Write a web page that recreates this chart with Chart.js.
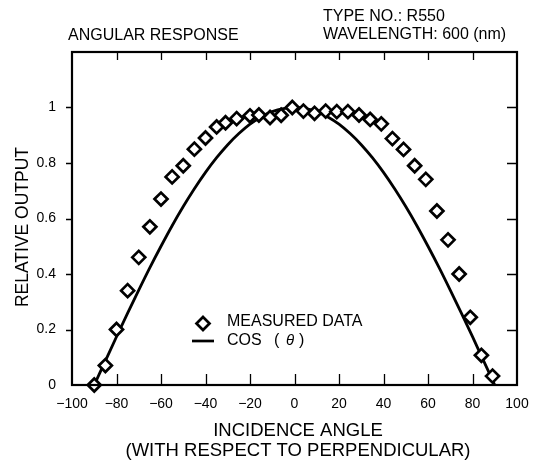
<!DOCTYPE html>
<html>
<head>
<meta charset="utf-8">
<script src="https://cdn.jsdelivr.net/npm/chart.js@4"></script>
<style>
  html, body { margin: 0; padding: 0; background: #fff; }
  canvas { display: block; }
</style>
</head>
<body>
<canvas id="chart" width="537" height="460"></canvas>
<script>
// measured points (angle in degrees, relative output)
const measuredAngles = [-90, -85, -80, -75, -70, -65, -60, -55, -50, -45, -40, -35, -31, -26, -20, -16, -11, -6, -1,
  4, 9, 14, 19, 24, 29, 34, 39, 44, 49, 54, 59, 64, 69, 74, 79, 84, 89];
const measuredOutput = [0.00, 0.07, 0.20, 0.34, 0.46, 0.57, 0.67, 0.75, 0.79, 0.85, 0.89, 0.93, 0.945, 0.96, 0.97, 0.973, 0.964, 0.972, 1.0,
  0.987, 0.979, 0.987, 0.985, 0.985, 0.973, 0.957, 0.941, 0.888, 0.849, 0.79, 0.741, 0.627, 0.523, 0.40, 0.244, 0.107, 0.032];

// cos(theta) reference curve, tabulated every 5 degrees
const cosAngles = [-90, -85, -80, -75, -70, -65, -60, -55, -50, -45, -40, -35, -30, -25, -20, -15, -10, -5, 0,
  5, 10, 15, 20, 25, 30, 35, 40, 45, 50, 55, 60, 65, 70, 75, 80, 85, 90];
const cosOutput = [0, 0.087, 0.174, 0.259, 0.342, 0.423, 0.5, 0.574, 0.643, 0.707, 0.766, 0.819, 0.866, 0.906, 0.94, 0.966, 0.985, 0.996, 1,
  0.996, 0.985, 0.966, 0.94, 0.906, 0.866, 0.819, 0.766, 0.707, 0.643, 0.574, 0.5, 0.423, 0.342, 0.259, 0.174, 0.087, 0];

const xTicks = [-100, -80, -60, -40, -20, 0, 20, 40, 60, 80, 100];
const yTicks = [0, 0.2, 0.4, 0.6, 0.8, 1];

const FONT = '"Liberation Sans", Arial, Helvetica, sans-serif';

// frame, inward tick marks, headings and legend
const decorations = {
  id: 'decorations',
  afterDraw(chart) {
    const {ctx, chartArea: a, scales: {x, y}} = chart;
    ctx.save();
    ctx.strokeStyle = '#000';
    ctx.lineWidth = 2.2;
    ctx.strokeRect(a.left, a.top, a.right - a.left, a.bottom - a.top);

    ctx.lineWidth = 1.3;
    ctx.beginPath();
    xTicks.slice(1, -1).forEach(v => {
      const px = Math.round(x.getPixelForValue(v)) + 0.5;
      ctx.moveTo(px, a.top); ctx.lineTo(px, a.top + 8);
      ctx.moveTo(px, a.bottom); ctx.lineTo(px, a.bottom - 11);
    });
    yTicks.slice(1).forEach(v => {
      const py = Math.round(y.getPixelForValue(v)) + 0.5;
      ctx.moveTo(a.right, py); ctx.lineTo(a.right - 10, py);
      ctx.moveTo(a.left, py); ctx.lineTo(a.left - 6, py);
    });
    ctx.stroke();

    ctx.fillStyle = '#000';
    ctx.textBaseline = 'middle';
    ctx.textAlign = 'left';
    ctx.font = '16px ' + FONT;
    ctx.fillText('ANGULAR RESPONSE', 68, 36);
    ctx.fillText('TYPE NO.: R550', 323, 17);
    ctx.fillText('WAVELENGTH: 600 (nm)', 323, 35);

    ctx.textAlign = 'center';
    ctx.font = '18.5px ' + FONT;
    ctx.fillText('INCIDENCE ANGLE', 298, 431);
    ctx.fillText('(WITH RESPECT TO PERPENDICULAR)', 298, 451);

    ctx.save();
    ctx.translate(23, 227);
    ctx.rotate(-Math.PI / 2);
    ctx.font = '17.5px ' + FONT;
    ctx.fillText('RELATIVE OUTPUT', 0, 0);
    ctx.restore();

    // legend
    ctx.lineWidth = 2.7;
    ctx.fillStyle = '#fff';
    ctx.beginPath();
    ctx.moveTo(203, 317); ctx.lineTo(209.5, 323.5); ctx.lineTo(203, 330); ctx.lineTo(196.5, 323.5);
    ctx.closePath();
    ctx.fill(); ctx.stroke();
    ctx.beginPath();
    ctx.moveTo(192, 341); ctx.lineTo(214, 341);
    ctx.stroke();

    ctx.fillStyle = '#000';
    ctx.textAlign = 'left';
    ctx.font = '16px ' + FONT;
    ctx.fillText('MEASURED DATA', 227, 322);
    ctx.fillText('COS', 227, 341);
    ctx.fillText('(', 274, 341);
    ctx.font = 'italic 15px ' + FONT;
    ctx.fillText('θ', 286, 341);
    ctx.font = '16px ' + FONT;
    ctx.fillText(')', 299, 341);
    ctx.restore();
  }
};

new Chart(document.getElementById('chart'), {
  type: 'scatter',
  data: {
    datasets: [{
      label: 'MEASURED DATA',
      data: measuredAngles.map((a, i) => ({x: a, y: measuredOutput[i]})),
      pointStyle: 'rectRot',
      pointRadius: 6.5,
      pointBorderWidth: 2.7,
      borderColor: '#000',
      backgroundColor: '#fff',
      clip: false,
      order: 0
    }, {
      label: 'COS (θ)',
      type: 'line',
      data: cosAngles.map((a, i) => ({x: a, y: cosOutput[i]})),
      borderColor: '#000',
      borderWidth: 2.8,
      pointRadius: 0,
      cubicInterpolationMode: 'monotone',
      fill: false,
      order: 1
    }]
  },
  options: {
    responsive: false,
    animation: false,
    devicePixelRatio: 1,
    layout: { padding: { left: 0, top: 52, right: 20, bottom: 0 } },
    plugins: {
      legend: { display: false },
      tooltip: { enabled: false }
    },
    scales: {
      x: {
        type: 'linear',
        min: -100,
        max: 100,
        afterFit(scale) { scale.height = 75; },
        afterBuildTicks(scale) { scale.ticks = xTicks.map(v => ({value: v})); },
        grid: { display: false },
        border: { display: false },
        ticks: {
          padding: 3,
          color: '#000',
          font: { family: FONT, size: 14 },
          maxRotation: 0,
          callback: v => String(v).replace('-', '\u2212')
        }
      },
      y: {
        min: 0,
        max: 1.2,
        afterFit(scale) { scale.width = 72; },
        afterBuildTicks(scale) { scale.ticks = yTicks.map(v => ({value: v})); },
        grid: { display: false },
        border: { display: false },
        ticks: {
          padding: 8,
          color: '#000',
          font: { family: FONT, size: 14 },
          callback: v => String(v)
        }
      }
    }
  },
  plugins: [decorations]
});
</script>
</body>
</html>
